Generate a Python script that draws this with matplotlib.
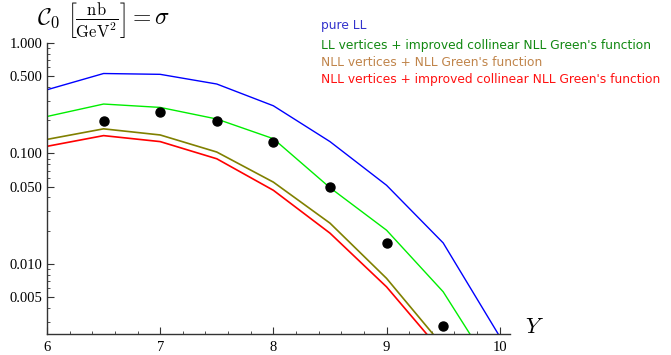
import matplotlib
matplotlib.use('Agg')
import matplotlib.pyplot as plt
from matplotlib.ticker import FixedLocator, NullFormatter

plt.rcParams['mathtext.fontset'] = 'cm'

# rapidity values
Y = [6.0, 6.5, 7.0, 7.5, 8.0, 8.5, 9.0, 9.5, 10.0]

# cross sections
pureLL = [0.377, 0.529, 0.52, 0.425, 0.27, 0.128, 0.0515, 0.0155, 0.0022]
llCollNLL = [0.216, 0.28, 0.261, 0.205, 0.136, 0.049, 0.0202, 0.0056, 0.00087]
nllNLL = [0.134, 0.167, 0.147, 0.103, 0.055, 0.0234, 0.0074, 0.0018, 0.0003]
nllCollNLL = [0.116, 0.145, 0.128, 0.0895, 0.0464, 0.019, 0.0062, 0.00155, 0.00025]

dataY = [6.5, 7.0, 7.5, 8.0, 8.5, 9.0, 9.5]
dataSigma = [0.195, 0.236, 0.198, 0.126, 0.0497, 0.0156, 0.00272]

legendTexts = ['pure LL',
               'LL vertices + improved collinear NLL Green\'s function',
               'NLL vertices + NLL Green\'s function',
               'NLL vertices + improved collinear NLL Green\'s function']
legendColors = ['#3333cc', '#118811', '#c0844a', '#ff1111']

fig = plt.figure(figsize=(6.71, 3.55), dpi=100)
ax = fig.add_axes([0.070, 0.059, 0.690, 0.820])

ax.plot(Y, pureLL, color='#0000ff', lw=1.0)
ax.plot(Y, llCollNLL, color='#00ee00', lw=1.0)
ax.plot(Y, nllNLL, color='#808000', lw=1.2)
ax.plot(Y, nllCollNLL, color='#ff0000', lw=1.2)
ax.plot(dataY, dataSigma, 'o', color='black', ms=6.5, clip_on=False)

ax.set_yscale('log')
ax.set_xlim(6, 10.09)
ax.set_ylim(0.00232, 1.0)

for s in ['top', 'right']:
    ax.spines[s].set_visible(False)
for s in ['left', 'bottom']:
    ax.spines[s].set_linewidth(1.0)
    ax.spines[s].set_color('#333333')

yt = [0.005, 0.01, 0.05, 0.1, 0.5, 1.0]
ax.yaxis.set_major_locator(FixedLocator(yt))
ax.set_yticklabels(['0.005', '0.010', '0.050', '0.100', '0.500', '1.000'])
minors = []
for dec in [0.001, 0.01, 0.1]:
    for m in range(2, 10):
        v = m * dec
        if v not in yt and 0.00232 < v < 1.0:
            minors.append(v)
ax.yaxis.set_minor_locator(FixedLocator(minors))
ax.yaxis.set_minor_formatter(NullFormatter())

ax.set_xticks([6, 7, 8, 9, 10])
ax.set_xticks([6 + 0.2 * i for i in range(21) if i % 5 != 0], minor=True)

ax.tick_params(which='major', direction='in', length=5, width=0.8, color='#333333',
               labelsize=10.5)
ax.tick_params(which='minor', direction='in', length=2.5, width=0.6, color='#333333')
for lab in ax.get_xticklabels() + ax.get_yticklabels():
    lab.set_family('Liberation Serif')
ax.tick_params(axis='x', pad=5)
ax.tick_params(axis='y', pad=3)

fig.text(0.055, 0.943, r'$\mathcal{C}_0\ \left[\frac{\rm nb}{\rm GeV^2}\right] = \sigma$',
         fontsize=17, va='center', ha='left')
fig.text(0.782, 0.078, r'$Y$', fontsize=16, va='center', ha='left')

ys = [0.927, 0.873, 0.824, 0.776]
for t, c, yy in zip(legendTexts, legendColors, ys):
    fig.text(0.479, yy, t, color=c, fontsize=8.85, va='center', ha='left',
             family='DejaVu Sans')

fig.savefig('out.png', dpi=100)
